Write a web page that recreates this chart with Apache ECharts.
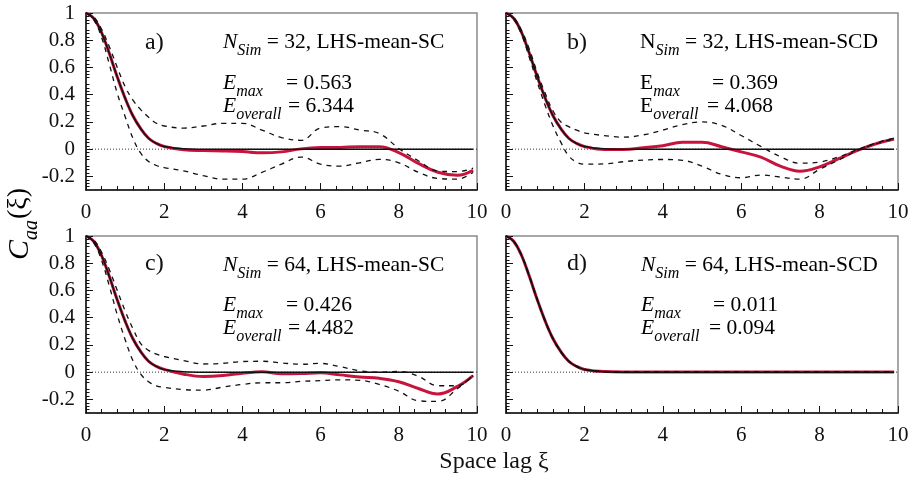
<!DOCTYPE html>
<html>
<head>
<meta charset="utf-8">
<script src="https://cdn.jsdelivr.net/npm/echarts@6/dist/echarts.min.js"></script>
<style>
  html, body { margin: 0; padding: 0; background: #fff; }
  #chart { width: 912px; height: 482px; }
</style>
</head>
<body>
<div id="chart"></div>
<script>
// Space lag samples shared by every curve
const lags = [0, 0.2, 0.4, 0.6, 0.8, 1.0, 1.2, 1.4, 1.6, 1.8, 2.0,
              2.5, 3.0, 3.5, 4.0, 4.5, 5.0, 5.5, 6.0, 6.5, 7.0, 7.5, 8.0, 8.5, 9.0, 9.5, 9.9];

// Target correlation function (black solid)
const target = [1, 0.96, 0.855, 0.70, 0.53, 0.375, 0.245, 0.15, 0.08, 0.042, 0.02,
                0.003, 0, 0, 0, 0, 0, 0, 0, 0, 0, 0, 0, 0, 0, 0, 0];

// a) N_Sim = 32, LHS-mean-SC
const meanA  = [1, 0.96, 0.855, 0.70, 0.53, 0.375, 0.245, 0.15, 0.08, 0.042, 0.02,
                -0.004, -0.01, -0.013, -0.018, -0.027, -0.02, 0.002, 0.012, 0.013, 0.018, 0.018, -0.025, -0.105, -0.17, -0.192, -0.155];
const upperA = [1, 0.97, 0.88, 0.75, 0.60, 0.46, 0.36, 0.29, 0.235, 0.19, 0.17,
                0.155, 0.17, 0.19, 0.19, 0.14, 0.085, 0.065, 0.155, 0.165, 0.14, 0.115, 0.005, -0.085, -0.16, -0.165, -0.14];
const lowerA = [1, 0.95, 0.82, 0.62, 0.41, 0.24, 0.08, -0.03, -0.09, -0.12, -0.135,
                -0.16, -0.195, -0.22, -0.22, -0.17, -0.11, -0.058, -0.11, -0.125, -0.1, -0.075, -0.1, -0.17, -0.215, -0.22, -0.17];

// b) N_Sim = 32, LHS-mean-SCD
const meanB  = [1, 0.96, 0.855, 0.70, 0.53, 0.375, 0.245, 0.15, 0.08, 0.042, 0.02,
                -0.003, -0.002, 0.01, 0.025, 0.05, 0.05, 0.018, -0.02, -0.058, -0.125, -0.162, -0.13, -0.068, -0.005, 0.045, 0.075];
const upperB = [1, 0.965, 0.87, 0.73, 0.56, 0.41, 0.28, 0.2, 0.165, 0.14, 0.12,
                0.1, 0.088, 0.105, 0.14, 0.18, 0.2, 0.175, 0.1, 0.02, -0.055, -0.103, -0.095, -0.055, 0.0, 0.05, 0.08];
const lowerB = [1, 0.955, 0.84, 0.67, 0.49, 0.32, 0.17, 0.05, -0.05, -0.095, -0.11,
                -0.108, -0.092, -0.08, -0.076, -0.082, -0.125, -0.185, -0.21, -0.19, -0.205, -0.22, -0.148, -0.078, -0.005, 0.045, 0.074];

// c) N_Sim = 64, LHS-mean-SC
const meanC  = [1, 0.96, 0.855, 0.70, 0.53, 0.375, 0.245, 0.15, 0.08, 0.042, 0.02,
                -0.015, -0.032, -0.025, -0.008, 0.003, -0.012, -0.01, -0.005, -0.02, -0.035, -0.045, -0.07, -0.12, -0.16, -0.105, -0.025];
const upperC = [1, 0.97, 0.88, 0.75, 0.60, 0.45, 0.32, 0.21, 0.16, 0.132, 0.115,
                0.085, 0.06, 0.065, 0.078, 0.08, 0.068, 0.058, 0.064, 0.04, 0.01, 0.0, 0.005, -0.03, -0.1, -0.1, -0.02];
const lowerC = [1, 0.95, 0.82, 0.63, 0.42, 0.24, 0.085, -0.015, -0.07, -0.1, -0.112,
                -0.128, -0.132, -0.11, -0.09, -0.078, -0.078, -0.068, -0.062, -0.056, -0.06, -0.09, -0.14, -0.21, -0.215, -0.12, -0.025];

// d) N_Sim = 64, LHS-mean-SCD
const meanD  = [1, 0.96, 0.855, 0.70, 0.53, 0.375, 0.245, 0.15, 0.08, 0.042, 0.02,
                0.004, 0.002, 0.002, 0.002, 0.002, 0.002, 0.002, 0.002, 0.002, 0.002, 0.002, 0.002, 0.002, 0.002, 0.002, 0.002];
const upperD = [1, 0.962, 0.858, 0.704, 0.534, 0.379, 0.248, 0.153, 0.082, 0.044, 0.022,
                0.005, 0.003, 0.003, 0.003, 0.003, 0.003, 0.003, 0.003, 0.003, 0.003, 0.003, 0.003, 0.003, 0.003, 0.003, 0.003];
const lowerD = [1, 0.958, 0.852, 0.696, 0.526, 0.371, 0.242, 0.147, 0.078, 0.04, 0.018,
                0.002, 0.001, 0.001, 0.001, 0.001, 0.001, 0.001, 0.001, 0.001, 0.001, 0.001, 0.001, 0.001, 0.001, 0.001, 0.001];

// Axis ticks and labels
const xTicks = [0, 2, 4, 6, 8, 10];
const yTicks = [-0.2, 0, 0.2, 0.4, 0.6, 0.8, 1];
const zeroLine = [0, 0];
const zeroLags = [0, 10];

const panels = [
  { mean: meanA, upper: upperA, lower: lowerA },
  { mean: meanB, upper: upperB, lower: lowerB },
  { mean: meanC, upper: upperC, lower: lowerC },
  { mean: meanD, upper: upperD, lower: lowerD }
];

const SERIF = '"Liberation Serif", "Times New Roman", serif';
const RED = '#c8143c';

const grids = [
  { left: 86,  top: 13,  width: 391, height: 177 },
  { left: 506, top: 13,  width: 392, height: 177 },
  { left: 86,  top: 236, width: 391, height: 177 },
  { left: 506, top: 236, width: 392, height: 177 }
].map(g => Object.assign(g, { show: true, borderColor: '#8a8a8a', borderWidth: 1.5, backgroundColor: 'transparent' }));

const pairs = (ys) => lags.map((x, i) => [x, ys[i]]);

const xAxes = grids.map((g, i) => ({
  type: 'value', gridIndex: i, min: 0, max: 10, interval: 2,
  axisLine: { show: true, onZero: false, lineStyle: { color: '#111', width: 1.5 } },
  axisTick: { show: true, inside: true, length: 7, lineStyle: { color: '#111', width: 1 } },
  minorTick: { show: true, splitNumber: 5, length: 4, lineStyle: { color: '#111', width: 1 } },
  splitLine: { show: false },
  axisLabel: {
    show: true, margin: 12, color: '#111', fontFamily: SERIF, fontSize: 21,
    customValues: xTicks
  }
}));

const yAxes = grids.map((g, i) => ({
  type: 'value', gridIndex: i, min: -0.3, max: 1, interval: 0.1,
  axisLine: { show: true, onZero: false, lineStyle: { color: '#111', width: 1.5 } },
  axisTick: { show: true, inside: true, length: 7, lineStyle: { color: '#111', width: 1 }, customValues: yTicks },
  minorTick: { show: true, splitNumber: 4, length: 3.5, lineStyle: { color: '#111', width: 1 } },
  splitLine: { show: false },
  axisLabel: {
    show: i % 2 === 0, margin: 11, color: '#111', fontFamily: SERIF, fontSize: 21,
    customValues: yTicks,
    formatter: v => String(Math.round(v * 10) / 10)
  }
}));

const series = [];
panels.forEach((p, i) => {
  series.push({
    type: 'line', xAxisIndex: i, yAxisIndex: i, symbol: 'none', silent: true,
    data: zeroLags.map((x, k) => [x, zeroLine[k]]),
    lineStyle: { color: '#333', width: 1, type: [1, 2] }
  });
  series.push({
    type: 'line', xAxisIndex: i, yAxisIndex: i, symbol: 'none', smooth: 0.4,
    data: pairs(p.mean), lineStyle: { color: RED, width: 3 }
  });
  series.push({
    type: 'line', xAxisIndex: i, yAxisIndex: i, symbol: 'none', smooth: 0.4,
    data: pairs(target), lineStyle: { color: '#111', width: 1.5 }
  });
  series.push({
    type: 'line', xAxisIndex: i, yAxisIndex: i, symbol: 'none', smooth: 0.4,
    data: pairs(p.upper), lineStyle: { color: '#111', width: 1.3, type: [5, 5] }
  });
  series.push({
    type: 'line', xAxisIndex: i, yAxisIndex: i, symbol: 'none', smooth: 0.4,
    data: pairs(p.lower), lineStyle: { color: '#111', width: 1.3, type: [5, 5] }
  });
});

// Rich-text styles for the annotations: main run + lowered subscript
const rich = {
  n:  { fontFamily: SERIF, fontSize: 21.5, lineHeight: 24, verticalAlign: 'top', color: '#111' },
  i:  { fontFamily: SERIF, fontSize: 21.5, lineHeight: 24, verticalAlign: 'top', fontStyle: 'italic', color: '#111' },
  s:  { fontFamily: SERIF, fontSize: 16, lineHeight: 16, verticalAlign: 'top', fontStyle: 'italic', padding: [12, 0, 0, 0], color: '#111' }
};

// Text line whose main run is vertically centred at cy
function line(x, cy, text) {
  return { type: 'text', silent: true, style: { x: x, y: cy - 9, text: text, rich: rich, align: 'left', verticalAlign: 'top' } };
}
function tag(x, cy, text) {
  return { type: 'text', silent: true, style: { x: x, y: cy, text: text, fontFamily: SERIF, fontSize: 24, fill: '#111', align: 'left', verticalAlign: 'middle' } };
}

const graphics = [
  // a)
  tag(145, 43, 'a)'),
  line(223, 40, '{i|N}{s|Sim}{n| = 32, LHS-mean-SC}'),
  line(223, 81, '{i|E}{s|max}'),
  line(286, 81, '{n|= 0.563}'),
  line(223, 104, '{i|E}{s|overall}'),
  line(288, 104, '{n|= 6.344}'),
  // b)
  tag(567, 43, 'b)'),
  line(640, 40, '{n|N}{s|Sim}{n| = 32, LHS-mean-SCD}'),
  line(640, 81, '{n|E}{s|max}'),
  line(712, 81, '{n|= 0.369}'),
  line(640, 104, '{n|E}{s|overall}'),
  line(707, 104, '{n|= 4.068}'),
  // c)
  tag(145, 264, 'c)'),
  line(223, 263, '{i|N}{s|Sim}{n| = 64, LHS-mean-SC}'),
  line(223, 303, '{i|E}{s|max}'),
  line(286, 303, '{n|= 0.426}'),
  line(223, 326, '{i|E}{s|overall}'),
  line(288, 326, '{n|= 4.482}'),
  // d)
  tag(567, 264, 'd)'),
  line(641, 263, '{i|N}{s|Sim}{n| = 64, LHS-mean-SCD}'),
  line(641, 303, '{i|E}{s|max}'),
  line(713, 303, '{n|= 0.011}'),
  line(641, 326, '{i|E}{s|overall}'),
  line(709, 326, '{n|= 0.094}'),
  // axis titles
  { type: 'text', silent: true, style: { x: 494, y: 462, text: 'Space lag ξ', fontFamily: SERIF, fontSize: 24, fill: '#111', align: 'center', verticalAlign: 'middle' } },
  { type: 'text', silent: true, x: 22, y: 224, rotation: Math.PI / 2,
    style: {
      x: 0, y: 0, align: 'center', verticalAlign: 'middle',
      text: '{c|C}{s|aa}{p|(ξ)}',
      rich: {
        c: { fontFamily: SERIF, fontSize: 30, fontStyle: 'italic', lineHeight: 34, verticalAlign: 'top', color: '#111' },
        s: { fontFamily: SERIF, fontSize: 20, fontStyle: 'italic', lineHeight: 20, verticalAlign: 'top', padding: [17, 1, 0, 0], color: '#111' },
        p: { fontFamily: SERIF, fontSize: 28, lineHeight: 34, verticalAlign: 'top', color: '#111' }
      }
    }
  }
];

const chart = echarts.init(document.getElementById('chart'), null, { renderer: 'canvas' });
chart.setOption({
  animation: false,
  backgroundColor: '#fff',
  grid: grids,
  xAxis: xAxes,
  yAxis: yAxes,
  series: series,
  graphic: graphics
});
</script>
</body>
</html>
